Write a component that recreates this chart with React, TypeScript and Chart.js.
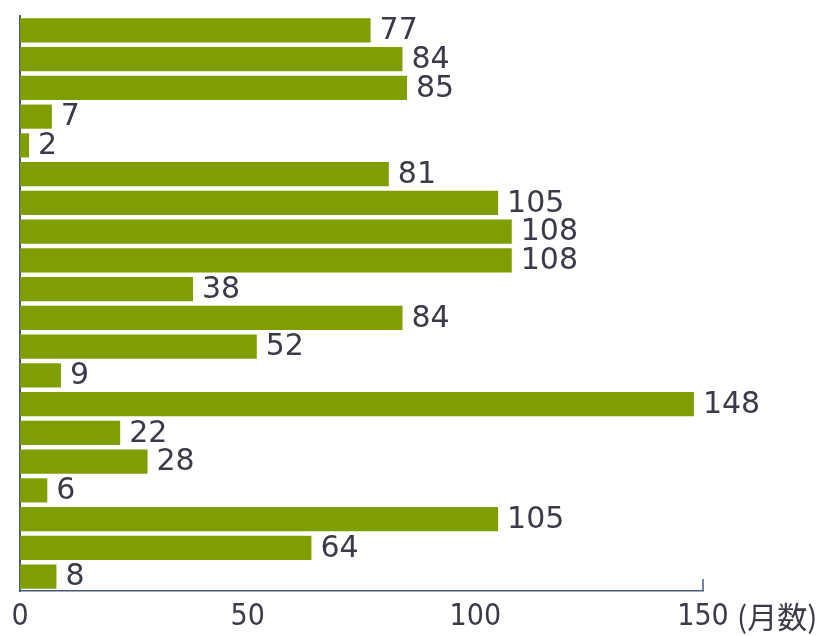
import React, { useEffect, useRef } from "react";
import { Chart, registerables } from "chart.js";

Chart.register(...registerables);

const categories: string[] = [
  "1", "2", "3", "4", "5", "6", "7", "8", "9", "10",
  "11", "12", "13", "14", "15", "16", "17", "18", "19", "20",
];
const months: number[] = [77, 84, 85, 7, 2, 81, 105, 108, 108, 38, 84, 52, 9, 148, 22, 28, 6, 105, 64, 8];
const xTicks: number[] = [0, 50, 100, 150];
const unitLabel = "(月数)";

const BAR_COLOR = "#7f9e02";
const TEXT_COLOR = "#3a3a48";
const AXIS_COLOR = "#4a5a7a";

const extrasPlugin = {
  id: "extras",
  afterDatasetsDraw(chart: any) {
    const ctx = chart.ctx;
    const meta = chart.getDatasetMeta(0);
    ctx.save();
    ctx.fillStyle = TEXT_COLOR;
    ctx.font = "30px 'DejaVu Sans'";
    ctx.textBaseline = "middle";
    ctx.textAlign = "left";
    meta.data.forEach((bar: any, i: number) => {
      ctx.fillText(String(months[i]), bar.x + 9, bar.y + 1);
    });
    const xs = chart.scales.x;
    const area = chart.chartArea;
    ctx.strokeStyle = AXIS_COLOR;
    ctx.lineWidth = 1.5;
    const xe = xs.getPixelForValue(150);
    ctx.beginPath();
    ctx.moveTo(xe, area.bottom);
    ctx.lineTo(xe, area.bottom - 12);
    ctx.stroke();
    ctx.font = "30px 'Noto Sans CJK JP'";
    ctx.textBaseline = "middle";
    ctx.fillText(unitLabel, xe + 34, 617);
    ctx.restore();
  },
};

export default function App() {
  const ref = useRef<HTMLCanvasElement | null>(null);
  useEffect(() => {
    if (!ref.current) return;
    const chart = new Chart(ref.current, {
      type: "bar",
      data: {
        labels: categories,
        datasets: [
          {
            data: months,
            backgroundColor: BAR_COLOR,
            borderWidth: 0,
            categoryPercentage: 0.84,
            barPercentage: 1,
          },
        ],
      },
      options: {
        indexAxis: "y",
        responsive: false,
        animation: false,
        layout: { padding: { left: 20, right: 120, top: 16, bottom: 0 } },
        plugins: { legend: { display: false }, tooltip: { enabled: false } },
        scales: {
          x: {
            min: 0,
            max: 150,
            afterBuildTicks: (axis: any) => {
              axis.ticks = xTicks.map((v) => ({ value: v }));
            },
            afterFit: (axis: any) => {
              axis.height = 45;
            },
            grid: { display: false, drawTicks: false },
            border: { display: true, color: AXIS_COLOR, width: 1.5 },
            ticks: {
              color: TEXT_COLOR,
              padding: 8,
              font: { family: "'DejaVu Sans Condensed', 'Liberation Sans Narrow', 'Liberation Sans'", size: 30, lineHeight: 1.2 },
            },
          },
          y: {
            grid: { display: false, drawTicks: false },
            border: { display: true, color: AXIS_COLOR, width: 2 },
            ticks: { display: false },
          },
        },
      },
      plugins: [extrasPlugin],
    });
    return () => chart.destroy();
  }, []);
  return (
    <div style={{ position: "fixed", left: 0, top: 0, width: 823, height: 636, background: "#fff" }}>
      <canvas ref={ref} width={823} height={636} />
    </div>
  );
}
